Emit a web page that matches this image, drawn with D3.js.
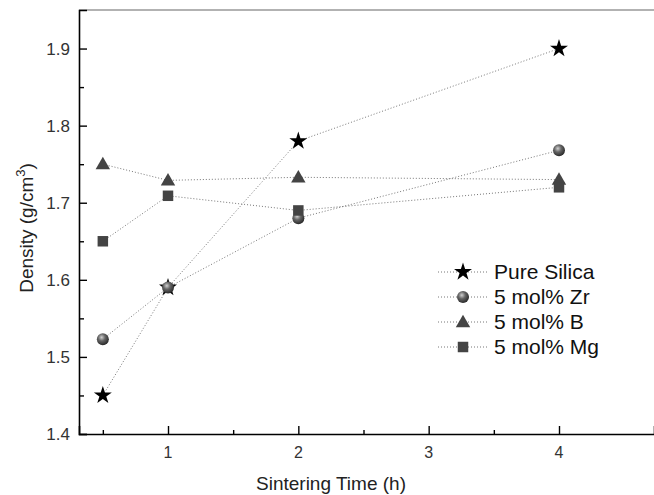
<!DOCTYPE html>
<html>
<head>
<meta charset="utf-8">
<script src="https://cdn.jsdelivr.net/npm/d3@7"></script>
<style>
body { margin: 0; background: #fff; }
text { font-family: "Liberation Sans", Arial, sans-serif; }
</style>
</head>
<body>
<script>
// data
var times = [0.5, 1, 2, 4];
var pureSilica = [1.45, 1.59, 1.78, 1.90];
var zr = [1.523, 1.59, 1.68, 1.768];
var boron = [1.75, 1.729, 1.733, 1.73];
var mg = [1.65, 1.709, 1.69, 1.72];
var seriesNames = ["Pure Silica", "5 mol% Zr", "5 mol% B", "5 mol% Mg"];
var xTicks = [1, 2, 3, 4];
var xMinor = [0.5, 1.5, 2.5, 3.5];
var yTicks = [1.4, 1.5, 1.6, 1.7, 1.8, 1.9];
var yMinor = [1.45, 1.55, 1.65, 1.75, 1.85];

var w = 654, h = 495;
var padL = 79, padT = 10, padB = 434, padR = 654;

var svg = d3.select("body").append("svg")
  .attr("width", w).attr("height", h);

var defs = svg.append("defs");
var grad = defs.append("radialGradient").attr("id", "ball")
  .attr("cx", "40%").attr("cy", "35%").attr("r", "65%");
grad.append("stop").attr("offset", "0%").attr("stop-color", "#d0d0d0");
grad.append("stop").attr("offset", "45%").attr("stop-color", "#666");
grad.append("stop").attr("offset", "100%").attr("stop-color", "#2a2a2a");

var x = d3.scaleLinear().domain([1 - 89 / 130.33, 4 + 95 / 130.33]).range([padL, padR]);
var y = d3.scaleLinear().domain([1.4, 1.95]).range([padB, padT]);

// frame
svg.append("line").attr("x1", padL).attr("x2", padR).attr("y1", padT).attr("y2", padT)
  .attr("stroke", "#666").attr("stroke-width", 1.2);

// axes with inward ticks
var xAxis = svg.append("g").attr("transform", "translate(0," + padB + ")")
  .call(d3.axisTop(x).tickValues(xTicks).tickSize(8).tickFormat(""));
svg.append("g").attr("transform", "translate(0," + padB + ")")
  .call(d3.axisTop(x).tickValues(xMinor).tickSize(4).tickFormat(""))
  .select(".domain").remove();
xAxis.select(".domain").attr("stroke-width", 1.6);

var yAxis = svg.append("g").attr("transform", "translate(" + padL + ",0)")
  .call(d3.axisRight(y).tickValues(yTicks).tickSize(8).tickFormat(""));
svg.append("g").attr("transform", "translate(" + padL + ",0)")
  .call(d3.axisRight(y).tickValues(yMinor).tickSize(5).tickFormat(""))
  .select(".domain").remove();
yAxis.select(".domain").attr("stroke-width", 1.6);
svg.selectAll("g.tick line").attr("stroke-width", 1.4);

// tick labels
svg.selectAll(".xlab").data(xTicks).enter().append("text")
  .attr("x", function(d) { return x(d); }).attr("y", padB + 24)
  .attr("text-anchor", "middle").attr("font-size", 16).attr("fill", "#333")
  .text(function(d) { return d; });
svg.selectAll(".ylab").data(yTicks).enter().append("text")
  .attr("x", padL - 9).attr("y", function(d) { return y(d) + 6; })
  .attr("text-anchor", "end").attr("font-size", 17).attr("fill", "#333")
  .text(function(d) { return d.toFixed(1); });

// axis titles
svg.append("text").attr("x", 331).attr("y", 490).attr("text-anchor", "middle")
  .attr("font-size", 19).attr("fill", "#222").text("Sintering Time (h)");
var yt = svg.append("text").attr("transform", "translate(33,228) rotate(-90)")
  .attr("text-anchor", "middle").attr("font-size", 19).attr("fill", "#222");
yt.append("tspan").text("Density (g/cm");
yt.append("tspan").attr("dy", -8).attr("font-size", 13).text("3");
yt.append("tspan").attr("dy", 8).text(")");

// markers
var star = d3.symbol().type(d3.symbolStar).size(100);
var tri = d3.symbol().type(d3.symbolTriangle).size(90);
var sq = d3.symbol().type(d3.symbolSquare).size(110);
function drawMarker(g, k, px, py) {
  if (k === 0) {
    g.append("path").attr("d", star).attr("transform", "translate(" + px + "," + py + ")").attr("fill", "#000");
  } else if (k === 1) {
    g.append("circle").attr("cx", px).attr("cy", py).attr("r", 6).attr("fill", "url(#ball)");
  } else if (k === 2) {
    g.append("path").attr("d", tri).attr("transform", "translate(" + px + "," + (py + 1) + ")").attr("fill", "#444");
  } else {
    g.append("path").attr("d", sq).attr("transform", "translate(" + px + "," + py + ")").attr("fill", "#444");
  }
}

var allSeries = [pureSilica, zr, boron, mg];
var line = d3.line().x(function(d, i) { return x(times[i]); }).y(function(d) { return y(d); });

allSeries.forEach(function(s, k) {
  svg.append("path").datum(s).attr("d", line).attr("fill", "none")
    .attr("stroke", "#777").attr("stroke-width", 1).attr("stroke-dasharray", "1,2");
});
allSeries.forEach(function(s, k) {
  var g = svg.append("g");
  s.forEach(function(v, i) { drawMarker(g, k, x(times[i]), y(v)); });
});

// legend
var legY = [272, 297, 322, 347];
seriesNames.forEach(function(name, k) {
  var g = svg.append("g");
  g.append("line").attr("x1", 438).attr("x2", 488).attr("y1", legY[k]).attr("y2", legY[k])
    .attr("stroke", "#777").attr("stroke-width", 1).attr("stroke-dasharray", "1,2");
  drawMarker(g, k, 463, legY[k]);
  g.append("text").attr("x", 494).attr("y", legY[k] + 7).attr("font-size", 21)
    .attr("fill", "#111").text(name);
});
</script>
</body>
</html>
